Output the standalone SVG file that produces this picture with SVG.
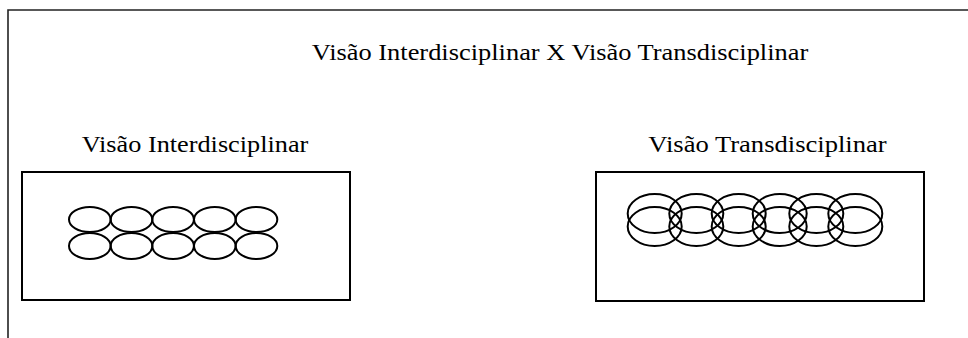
<svg xmlns="http://www.w3.org/2000/svg" width="968" height="338" viewBox="0 0 968 338">
<style>
.t{font-family:"Liberation Serif","Times New Roman",serif;fill:#000;font-size:23px}
.box{fill:none;stroke:#000;stroke-width:2}
.el{fill:none;stroke:#000;stroke-width:2}
.frame{fill:none;stroke:#222;stroke-width:1.6}
</style>
<rect width="968" height="338" fill="#fff"/>
<g id="frame">
<path class="frame" d="M8,338 V10 H968"/>
</g>
<g id="title">
<text class="t" x="311.7" y="59.5" textLength="496.6" lengthAdjust="spacingAndGlyphs">Visão Interdisciplinar X Visão Transdisciplinar</text>
</g>
<g id="inter">
<text class="t" x="81.7" y="152" textLength="226.6" lengthAdjust="spacingAndGlyphs">Visão Interdisciplinar</text>
<rect class="box" x="22" y="172" width="328" height="128"/>
<g id="inter-row1">
<ellipse class="el" cx="89.8" cy="219.5" rx="20.8" ry="12.5"/>
<ellipse class="el" cx="131.5" cy="219.5" rx="20.8" ry="12.5"/>
<ellipse class="el" cx="173.1" cy="219.5" rx="20.8" ry="12.5"/>
<ellipse class="el" cx="214.8" cy="219.5" rx="20.8" ry="12.5"/>
<ellipse class="el" cx="256.5" cy="219.5" rx="20.8" ry="12.5"/>
</g>
<g id="inter-row2">
<ellipse class="el" cx="89.8" cy="246" rx="20.8" ry="13"/>
<ellipse class="el" cx="131.5" cy="246" rx="20.8" ry="13"/>
<ellipse class="el" cx="173.1" cy="246" rx="20.8" ry="13"/>
<ellipse class="el" cx="214.8" cy="246" rx="20.8" ry="13"/>
<ellipse class="el" cx="256.5" cy="246" rx="20.8" ry="13"/>
</g>
</g>
<g id="trans">
<text class="t" x="648.3" y="152" textLength="238.4" lengthAdjust="spacingAndGlyphs">Visão Transdisciplinar</text>
<rect class="box" x="596" y="172" width="328" height="129"/>
<g id="trans-row1">
<ellipse class="el" cx="654.7" cy="213.5" rx="27" ry="19.5"/>
<ellipse class="el" cx="696.3" cy="213.5" rx="27" ry="19.5"/>
<ellipse class="el" cx="738.7" cy="213.5" rx="27" ry="19.5"/>
<ellipse class="el" cx="779.7" cy="213.5" rx="27" ry="19.5"/>
<ellipse class="el" cx="816.3" cy="213.5" rx="27" ry="19.5"/>
<ellipse class="el" cx="855.3" cy="213.5" rx="27" ry="19.5"/>
</g>
<g id="trans-row2">
<ellipse class="el" cx="654.7" cy="226.5" rx="27" ry="19.5"/>
<ellipse class="el" cx="696.3" cy="226.5" rx="27" ry="19.5"/>
<ellipse class="el" cx="738.7" cy="226.5" rx="27" ry="19.5"/>
<ellipse class="el" cx="779.7" cy="226.5" rx="27" ry="19.5"/>
<ellipse class="el" cx="816.3" cy="226.5" rx="27" ry="19.5"/>
<ellipse class="el" cx="855.3" cy="226.5" rx="27" ry="19.5"/>
</g>
</g>
</svg>
